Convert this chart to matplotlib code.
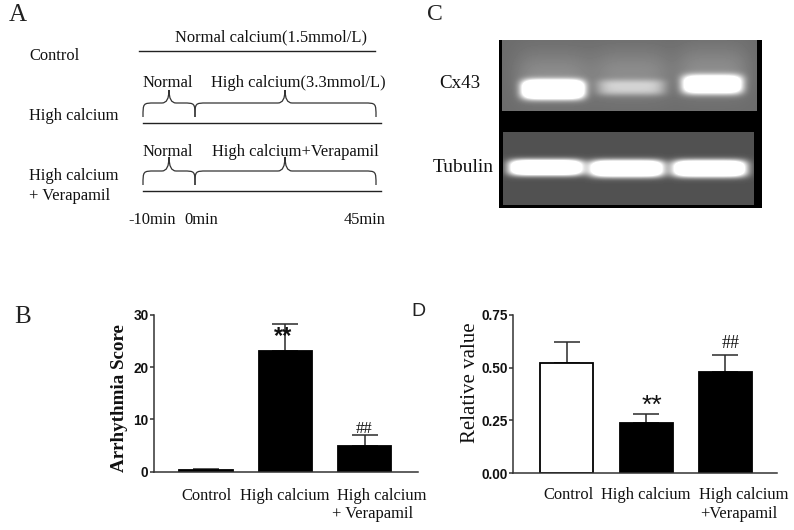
import numpy as np
import matplotlib
matplotlib.use("Agg")
import matplotlib.pyplot as plt
from matplotlib.path import Path
from matplotlib.patches import PathPatch

W, H = 794, 530
SERIF = "Liberation Serif"

# Panel B data
categories_b = ["Control", "High calcium", "High calcium\n+ Verapamil"]
values_b = [0.25, 23.0, 5.0]
errors_b = [0.35, 5.2, 2.0]
colors_b = ["black", "black", "black"]
yticks_b = [0, 10, 20, 30]

# Panel D data
categories_d = ["Control", "High calcium", "High calcium\n+Verapamil"]
values_d = [0.52, 0.24, 0.48]
errors_d = [0.10, 0.04, 0.08]
colors_d = ["white", "black", "black"]
yticks_d = [0.00, 0.25, 0.50, 0.75]

# Panel C band estimates: x start, x end, y centre, half height, brightness (pixels)
bands_cx43 = [(521, 584, 89, 9.5, 330), (597, 665, 87, 8, 80), (682, 743, 84, 9.5, 250)]
bands_tub = [(508, 583, 167, 8, 340), (589, 664, 168, 8.5, 340), (672, 747, 168, 8.5, 340)]

plt.rcParams["font.family"] = SERIF
fig = plt.figure(figsize=(W / 100, H / 100), dpi=100, facecolor="white")


def axes_px(l, t, r, b, **kw):
    return fig.add_axes([l / W, 1 - b / H, (r - l) / W, (b - t) / H], **kw)


def bar_panel(box, xlim, values, errors, colors, yticks, ylim, fmt):
    ax = axes_px(*box)
    x = np.arange(len(values))
    ax.bar(x, values, width=0.67, color=colors, edgecolor="black", linewidth=1.3, zorder=2)
    ax.errorbar(x, values, yerr=[np.zeros(len(errors)), errors], fmt="none",
                ecolor="#2a2a2a", elinewidth=1.1, capsize=9.5, capthick=1.1, zorder=1)
    ax.set_xlim(*xlim)
    ax.set_ylim(*ylim)
    ax.set_xticks([])
    ax.set_yticks(yticks)
    ax.set_yticklabels([fmt.format(v) for v in yticks], family="Liberation Sans",
                       fontweight="bold", fontsize=9.8, color="#111111")
    ax.tick_params(axis="y", length=3.2, width=1.1, color="#333333", pad=0.5)
    for s in ("top", "right"):
        ax.spines[s].set_visible(False)
    for s in ("left", "bottom"):
        ax.spines[s].set_linewidth(1.1)
        ax.spines[s].set_color("#333333")
    ax.patch.set_alpha(0)
    return ax


bar_panel((153.5, 314.7, 418, 471.7), (-0.66, 2.67), values_b, errors_b, colors_b,
          yticks_b, (0, 30), "{:d}")
bar_panel((513, 314.7, 777, 473.3), (-0.68, 2.65), values_d, errors_d, colors_d,
          yticks_d, (0, 0.75), "{:.2f}")

# Panel C gel
gel = axes_px(498.7, 40, 761.7, 208)
gel.set_axis_off()
yy, xx = np.mgrid[40:208, 498.7:761.7:263j]
img = np.zeros_like(xx)


def panel(x0, x1, y0, y1, base, bands, haze):
    mask = (xx >= x0) & (xx <= x1) & (yy >= y0) & (yy <= y1)
    layer = np.full_like(xx, base, dtype=float)
    for bx0, bx1, yc, hh, peak in bands:
        c, hw = (bx0 + bx1) / 2, (bx1 - bx0) / 2
        gx = np.exp(-np.abs((xx - c) / hw) ** 6)
        if haze:
            up = np.exp(-((yy - (yc - 14)) / 24) ** 2) * np.exp(-np.abs((xx - c) / (hw + 6)) ** 4)
            layer += 32 * up
        layer += peak * gx * np.exp(-np.abs((yy - yc) / hh) ** 3)
    img[mask] = layer[mask]


panel(501.7, 757, 40, 110, 108, bands_cx43, True)
panel(502.7, 754, 132, 204, 82, bands_tub, False)
gel.imshow(np.clip(img, 0, 255), cmap="gray", vmin=0, vmax=255, aspect="auto", interpolation="bilinear")

# Overlay for diagram and text
ov = axes_px(0, 0, W, H, zorder=5)
ov.set_xlim(0, W)
ov.set_ylim(H, 0)
ov.set_axis_off()
ov.patch.set_alpha(0)


def txt(x, y, s, size=11.9, ha="center", **kw):
    ov.text(x, y, s, fontsize=size, ha=ha, va="center", color="#111111", **kw)


for x, y, s, fam, size in [(18, 15, "A", SERIF, 18), (23, 317, "B", SERIF, 18),
                           (435, 14, "C", SERIF, 17), (418, 312, "D", "Liberation Sans", 14)]:
    ov.text(x, y, s, family=fam, fontsize=size, ha="center", va="center", color="#222222")

# Panel A
for x, y, s in [(29, 56, "Control"), (29, 116, "High calcium"), (29, 176, "High calcium"),
                (29, 196, "+ Verapamil")]:
    txt(x, y, s, ha="left")
for x0, x1, y in [(139, 375, 51), (143, 381, 122.5), (143, 381, 190.5)]:
    ov.plot([x0, x1], [y, y], color="#222222", lw=1)
for x, y, s in [(271, 37, "Normal calcium(1.5mmol/L)"), (168, 83, "Normal"),
                (298, 83, "High calcium(3.3mmol/L)"), (168, 152, "Normal"),
                (295, 152, "High calcium+Verapamil"), (152, 220, "-10min"),
                (201, 220, "0min"), (365, 220, "45min")]:
    txt(x, y, s)


def brace(x0, x1, tip, base, top, tip_y):
    C3, C4 = Path.CURVE3, Path.CURVE4
    v = [(x0, base), (x0, top), (x0, top), (x0 + 12, top), (tip - 7, top), (tip, top), (tip, tip_y),
         (tip, top), (tip + 7, top), (x1 - 12, top), (x1, top), (x1, top), (x1, base)]
    c = [Path.MOVETO, C4, C4, C4, Path.LINETO, C3, C3, C3, C3, Path.LINETO, C4, C4, C4]
    ov.add_patch(PathPatch(Path(v, c), fc="none", ec="#333333", lw=0.9))


for base, top, tip_y in [(117, 103, 90), (185, 171, 157)]:
    brace(143, 195, 169, base, top, tip_y)
    brace(195, 376, 285, base, top, tip_y)

# Panel C labels
txt(460, 83, "Cx43", size=13.7)
txt(463, 168, "Tubulin", size=14)

# Panel B labels
txt(119, 398, "Arrhythmia Score", size=13.7, rotation=90, fontweight="bold")
txt(207, 496, categories_b[0])
txt(285, 496, categories_b[1])
first, second = categories_b[2].split("\n")
txt(382, 496, first)
txt(373, 514, second)
txt(283, 337, "**", size=17, family="Liberation Sans", fontweight="bold")
txt(364, 429, "##", size=12)

# Panel D labels
txt(470.5, 383, "Relative value", size=15, rotation=90)
txt(568, 495, categories_d[0])
txt(646, 495, categories_d[1])
first, second = categories_d[2].split("\n")
txt(744, 495, first)
txt(739, 514, second)
txt(652, 406, "**", size=19, family="Liberation Sans")
txt(731, 344, "##", size=13)

fig.savefig("out.png", dpi=100)
